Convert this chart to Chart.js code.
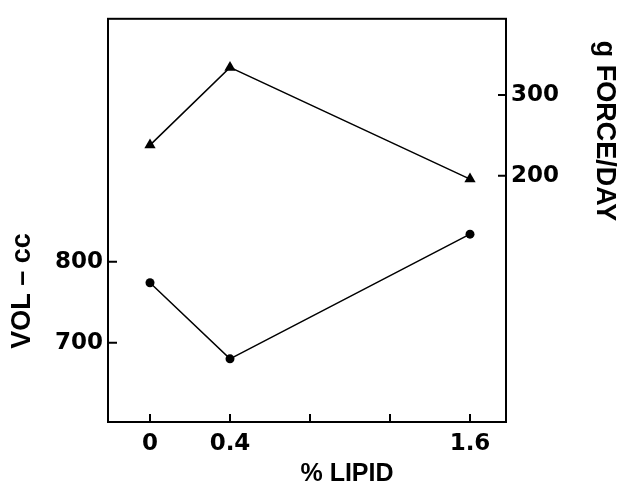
<!DOCTYPE html>
<html>
<head>
<meta charset="utf-8">
<script src="https://cdn.jsdelivr.net/npm/chart.js@4.4.0/dist/chart.umd.min.js"></script>
<style>
  html, body { margin: 0; padding: 0; background: #fff; }
</style>
</head>
<body>
<canvas id="chart" width="620" height="486"></canvas>
<script>
// data
const lipid = [0, 0.4, 1.6];
const volume = [774, 680, 834];      // VOL - cc, left axis, circles
const force = [238, 334, 196];       // g FORCE/DAY, right axis, triangles
const xTicks = [0, 0.4, 0.8, 1.2, 1.6];
const xLabelled = [0, 0.4, 1.6];
const volTicks = [700, 800];
const forceTicks = [200, 300];

const TITLE_FAMILY = '"Liberation Sans", Arial, sans-serif';
const tickFont = { family: '"DejaVu Sans", sans-serif', size: 23, weight: 'bold' };

// box, inward tick marks and axis titles
const framePlugin = {
  id: 'frame',
  afterDraw(chart) {
    const { ctx, chartArea: a, scales } = chart;
    ctx.save();
    ctx.strokeStyle = '#000';
    ctx.lineWidth = 2;
    ctx.strokeRect(a.left, a.top, a.right - a.left, a.bottom - a.top);

    ctx.beginPath();
    xTicks.forEach(v => {
      const px = scales.x.getPixelForValue(v);
      ctx.moveTo(px, a.bottom);
      ctx.lineTo(px, a.bottom - 8);
    });
    volTicks.forEach(v => {
      const py = scales.y.getPixelForValue(v);
      ctx.moveTo(a.left, py);
      ctx.lineTo(a.left + 9, py);
    });
    forceTicks.forEach(v => {
      const py = scales.y2.getPixelForValue(v);
      ctx.moveTo(a.right, py);
      ctx.lineTo(a.right - 8, py);
    });
    ctx.stroke();

    ctx.fillStyle = '#000';
    ctx.textAlign = 'center';
    ctx.textBaseline = 'middle';
    ctx.font = 'bold 25px ' + TITLE_FAMILY;
    ctx.fillText('% LIPID', 347, 474);

    ctx.font = 'bold 27px ' + TITLE_FAMILY;
    ctx.save();
    ctx.translate(23, 291);
    ctx.rotate(-Math.PI / 2);
    ctx.fillText('VOL \u2013 cc', 0, 0);
    ctx.restore();

    ctx.save();
    ctx.translate(604, 131);
    ctx.rotate(Math.PI / 2);
    ctx.fillText('g FORCE/DAY', 0, 0);
    ctx.restore();
    ctx.restore();
  }
};

new Chart(document.getElementById('chart'), {
  type: 'scatter',
  data: {
    datasets: [
      {
        label: 'VOL',
        data: lipid.map((x, i) => ({ x, y: volume[i] })),
        yAxisID: 'y',
        showLine: true,
        borderColor: '#000',
        backgroundColor: '#000',
        borderWidth: 1.5,
        pointStyle: 'circle',
        pointRadius: 4.5,
        pointBorderWidth: 0
      },
      {
        label: 'FORCE',
        data: lipid.map((x, i) => ({ x, y: force[i] })),
        yAxisID: 'y2',
        showLine: true,
        borderColor: '#000',
        backgroundColor: '#000',
        borderWidth: 1.5,
        pointStyle: 'triangle',
        pointRadius: 6.5,
        pointBorderWidth: 0
      }
    ]
  },
  options: {
    responsive: false,
    animation: false,
    layout: { padding: { top: 14, left: 0, right: 0, bottom: 0 } },
    plugins: {
      legend: { display: false },
      tooltip: { enabled: false }
    },
    scales: {
      x: {
        type: 'linear',
        min: -0.21,
        max: 1.78,
        afterBuildTicks: s => { s.ticks = xTicks.map(v => ({ value: v })); },
        afterFit: s => { s.height = 64; },
        grid: { display: false, drawTicks: false },
        border: { display: false },
        ticks: {
          color: '#000',
          font: tickFont,
          padding: 8,
          maxRotation: 0,
          autoSkip: false,
          callback: v => xLabelled.includes(v) ? String(v) : ''
        }
      },
      y: {
        type: 'linear',
        position: 'left',
        min: 602,
        max: 1100,
        afterBuildTicks: s => { s.ticks = volTicks.map(v => ({ value: v })); },
        afterFit: s => { s.width = 108; },
        grid: { display: false, drawTicks: false },
        border: { display: false },
        ticks: { color: '#000', font: tickFont, padding: 5 }
      },
      y2: {
        type: 'linear',
        position: 'right',
        min: -104,
        max: 394,
        afterBuildTicks: s => { s.ticks = forceTicks.map(v => ({ value: v })); },
        afterFit: s => { s.width = 114; },
        grid: { display: false, drawTicks: false },
        border: { display: false },
        ticks: { color: '#000', font: tickFont, padding: 5 }
      }
    }
  },
  plugins: [framePlugin]
});
</script>
</body>
</html>
